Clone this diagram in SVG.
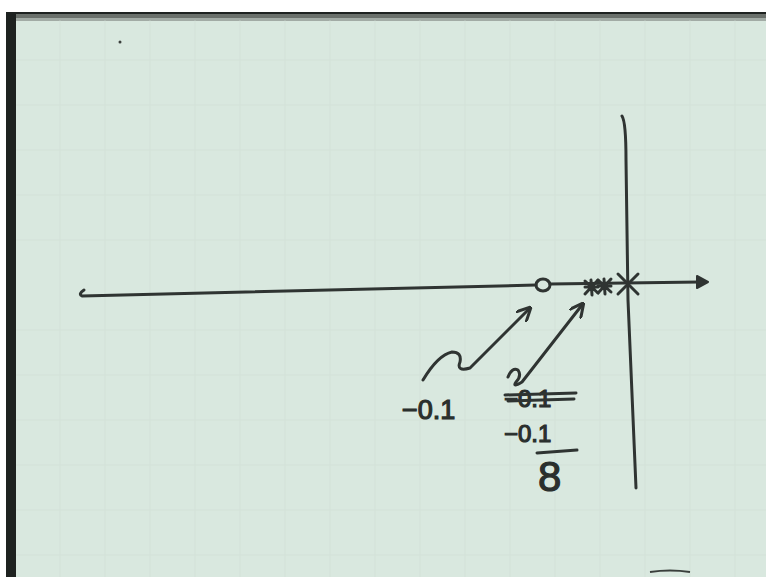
<svg xmlns="http://www.w3.org/2000/svg" width="766" height="577" viewBox="0 0 766 577">
<style>
.ink{fill:none;stroke:#2f3432;stroke-width:3;stroke-linecap:round;stroke-linejoin:round}
.txt{font-family:"Liberation Sans",Arial,sans-serif;fill:#2a2f2d;stroke:#2a2f2d;stroke-width:1.2}
.grid{stroke:#cfddd4;stroke-width:1;opacity:0.5}
</style>
<defs>
<marker id="ah" viewBox="0 0 10 10" refX="8" refY="5" markerWidth="5" markerHeight="5" orient="auto">
<path d="M0,0 L10,5 L0,10" fill="none" stroke="#2f3432" stroke-width="2"/>
</marker>
</defs>
<rect width="766" height="577" fill="#ffffff"/>
<rect x="6" y="12" width="760" height="565" fill="#1e2220"/>
<rect x="16" y="18" width="750" height="559" fill="#d9e8df"/>
<rect x="16" y="14" width="750" height="7" fill="#8a918c" opacity="0.7"/>
<g class="grid">
<path d="M60 20V577M105 20V577M150 20V577M195 20V577M240 20V577M285 20V577M330 20V577M375 20V577M420 20V577M465 20V577M510 20V577M555 20V577M600 20V577M645 20V577M690 20V577M735 20V577"/>
<path d="M16 60H766M16 105H766M16 150H766M16 195H766M16 240H766M16 330H766M16 375H766M16 420H766M16 465H766M16 510H766M16 555H766"/>
</g>
<circle cx="120" cy="42" r="1.5" fill="#3a3f3c"/>
<path d="M650 572 Q670 569 690 572" stroke="#3a3f3c" stroke-width="2" fill="none"/>
<g id="axes">
<path class="ink" d="M84 290 Q78 294 82 296 Q300 290 536 285"/>
<path class="ink" d="M550 284 L700 282"/>
<path d="M697 276 L708 282 L697 288 Z" fill="#2f3432" stroke="#2f3432" stroke-width="2" stroke-linejoin="round"/>
<path class="ink" d="M622 116 Q626 122 626 160 L628 300 L636 488"/>
</g>
<g id="zero">
<ellipse class="ink" cx="543" cy="285" rx="7" ry="6"/>
</g>
<g id="poles">
<path class="ink" d="M585 287 L598 287 M591 280 L592 295 M585 281 L598 293 M598 280 L585 294"/>
<path class="ink" d="M598 286 L611 286 M604 279 L605 294 M598 280 L611 292 M611 279 L598 293"/>
<path class="ink" d="M618 274 L638 294 M638 274 L618 294"/>
</g>
<g id="connectors">
<path class="ink" d="M423 380 Q438 355 452 352 Q462 352 460 362 Q456 372 470 368 L529 309" marker-end="url(#ah)"/>
<path class="ink" d="M508 377 Q512 367 518 370 Q522 376 516 382 Q512 388 522 382 L582 305" marker-end="url(#ah)"/>
</g>
<g id="labels">
<text class="txt" x="402" y="419" style="font-size:27px">−0.1</text>
<text class="txt" x="504" y="407" style="font-size:24px">−0.1</text>
<path class="ink" d="M505 395 L576 393 M508 401 L574 399"/>
<text class="txt" x="504" y="442" style="font-size:24px">−0.1</text>
<path class="ink" d="M537 453 L577 450"/>
<text class="txt" x="538" y="491" style="font-size:42px">8</text>
</g>
</svg>
